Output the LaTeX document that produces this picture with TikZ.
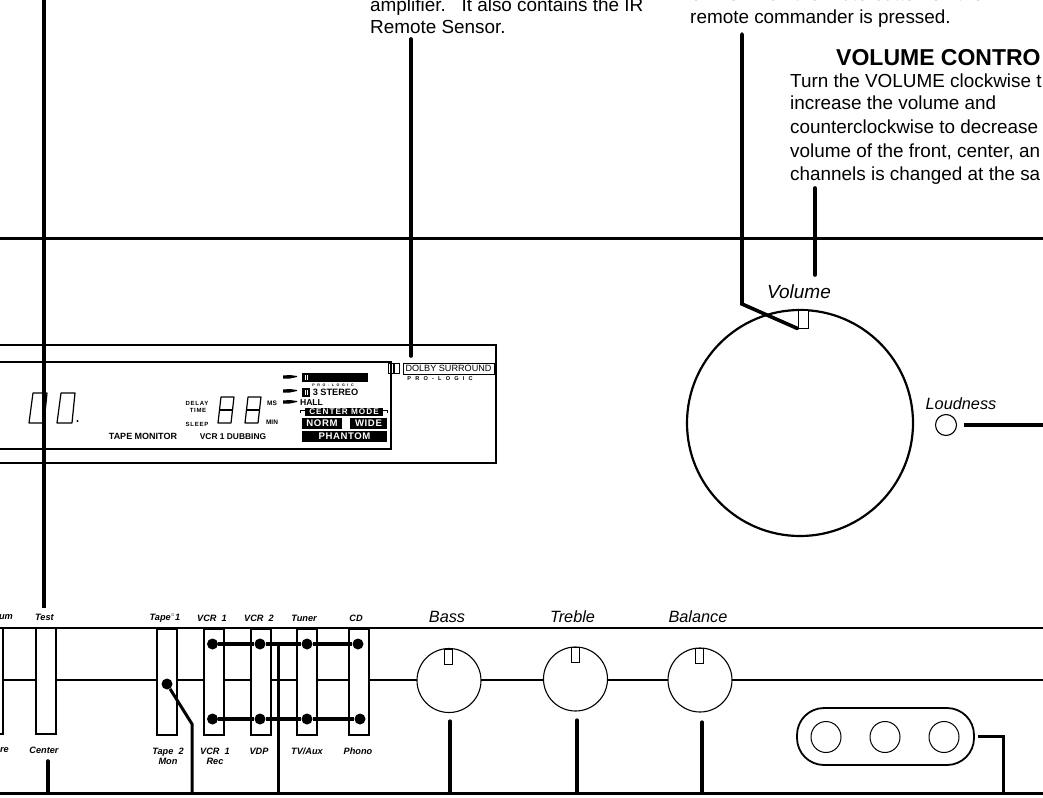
\documentclass[tikz,border=0pt]{standalone}
\usepackage{fontspec}
\setmainfont{Liberation Sans}
\newcommand\gpa{\hspace{2.6pt}}
\newcommand\gpb{\hspace{4.2pt}}
\usetikzlibrary{shapes.geometric}
\tikzset{
 x=1pt,y=-1pt,
 rule/.style={line width=3pt,black},
 lead/.style={line width=3.6pt,black},
 body/.style={anchor=base west,inner sep=0pt,font=\fontsize{18.9}{22}\selectfont},
 ctl/.style={inner sep=0pt,font=\fontsize{16.3}{18}\selectfont\itshape},
 sw/.style={inner sep=0pt,font=\fontsize{9.2}{10}\selectfont\itshape\bfseries,align=center},
 tiny/.style={inner sep=0pt,font=\fontsize{7.5}{8}\selectfont\bfseries},
 key/.style={draw=black,line width=2pt,fill=white,minimum width=20pt,minimum height=106pt,inner sep=0pt},
 knob/.style={draw=black,line width=1.1pt,fill=white,ellipse,minimum width=64pt,minimum height=64pt,inner sep=0pt},
 mark1/.style={draw=black,line width=.8pt,fill=white,minimum width=8pt,minimum height=15pt,inner sep=0pt},
 hole/.style={ellipse,draw=black,line width=1pt,minimum width=30pt,minimum height=31pt,inner sep=0pt},
 dot/.style={circle,fill=black,inner sep=0pt,minimum size=11pt},
 rev/.style={fill=black,text=white,inner sep=0pt,font=\fontsize{9.6}{10}\selectfont\bfseries\addfontfeatures{LetterSpace=6}},
 seg/.style={line width=1.2pt,black,line join=round},
}
\begin{document}
\begin{tikzpicture}
\useasboundingbox (0,0) rectangle (1043,797);
% frame rules
\coordinate (tL) at (0,238); \coordinate (tR) at (1043,238);
\coordinate (pL) at (0,628); \coordinate (pR) at (1043,628);
\coordinate (mL) at (0,680); \coordinate (mR) at (1043,680);
\coordinate (bL) at (0,793); \coordinate (bR) at (1043,793);
\draw[rule] (tL)--(tR);
\draw[rule,line width=2.2pt] (pL)--(pR);
\draw[rule,line width=2.2pt] (mL)--(mR);
\draw[rule] (bL)--(bR);
% display
\draw[line width=2.2pt] (0,345)--(496,345)--(496,463)--(0,463);
\draw[line width=2pt] (0,362)--(391,362)--(391,449)--(0,449);
% digits
\foreach \xx in {29,57}{
 \draw[seg] (\xx+4,393)--(\xx+18,393)--(\xx+15,423)--(\xx,423)--cycle;}
\fill (77.5,421) circle (1.2pt);
\foreach \xx in {218,245}{
 \draw[seg] (\xx+3,397)--(\xx+16,397)--(\xx+13,423)--(\xx,423)--cycle;
 \draw[seg] (\xx+1.5,410)--(\xx+14.5,410);}
\node[tiny,font=\fontsize{6}{7}\selectfont\bfseries\addfontfeatures{LetterSpace=12}] (dl) at (197,403) {DELAY};
\node[tiny,font=\fontsize{6}{7}\selectfont\bfseries\addfontfeatures{LetterSpace=12}] (tm) at (198,410) {TIME};
\node[tiny,font=\fontsize{6}{7}\selectfont\bfseries\addfontfeatures{LetterSpace=12}] (sl) at (197,424.5) {SLEEP};
\node[tiny,font=\fontsize{6.5}{7}\selectfont\bfseries] (ms) at (272,403) {MS};
\node[tiny,font=\fontsize{6.5}{7}\selectfont\bfseries] (mn) at (272,422) {MIN};
\node[tiny,font=\fontsize{9}{10}\selectfont\bfseries] (tp) at (143,436) {TAPE MONITOR};
\node[tiny,font=\fontsize{8.4}{10}\selectfont\bfseries] (vd) at (233,436.5) {VCR 1 DUBBING};
% pointer wedges
\foreach \yy in {377,391,402}{
 \fill (283,\yy-1.5)--(290,\yy-2)--(297,\yy-1)--(297,\yy)--(290,\yy+1.5)--(283,\yy+1.5)--cycle;}
\fill (302,373) rectangle (368,382);
\draw[white,line width=.7pt] (305,375)--(305,380) (307.5,375)--(307.5,380);
\fill (302,388) rectangle (310,397);
\draw[white,line width=.7pt] (305,390)--(305,395) (307.5,390)--(307.5,395);
\node[tiny,font=\fontsize{3.6}{4}\selectfont\bfseries] (pl0) at (333,385.5) {P\gpa R\gpa O\gpa -\gpa L\gpa O\gpa G\gpa I\gpa C};
\node[tiny,font=\fontsize{9.2}{10}\selectfont\bfseries] (st) at (335.5,392.5) {3 STEREO};
\node[tiny,font=\fontsize{8.6}{10}\selectfont\bfseries] (hl) at (311.5,403) {HALL};
\node[rev,minimum width=78pt,minimum height=8pt,font=\fontsize{8.2}{9}\selectfont\bfseries\addfontfeatures{LetterSpace=12}] (cm) at (344,411.5) {CENTER MODE};
\draw[line width=.9pt] (305,410)--(300.5,410)--(300.5,412.5) (383,410)--(387.5,410)--(387.5,412.5);
\node[rev,minimum width=40pt,minimum height=11pt] (nr) at (322,423.5) {NORM};
\node[rev,minimum width=37pt,minimum height=11pt] (wd) at (368.5,423.5) {WIDE};
\node[rev,minimum width=85pt,minimum height=11pt] (ph) at (344.5,436.5) {PHANTOM};
% dolby
\draw[line width=1pt] (388.5,363.5) rectangle (399.5,373);
\draw[line width=1.6pt] (394,363.5)--(394,373);
\node[draw=black,line width=.8pt,inner sep=0pt,minimum width=91pt,minimum height=11pt,font=\fontsize{9.1}{10}\selectfont] (db) at (448.5,368.5) {DOLBY SURROUND};
\node[tiny,font=\fontsize{5.6}{6}\selectfont\bfseries] (pl1) at (440,379) {P\gpb R\gpb O\gpb -\gpb L\gpb O\gpb G\gpb I\gpb C};
% leaders
\coordinate (testTop) at (44,0); \coordinate (testEnd) at (44,608);
\draw[lead] (testTop)--(testEnd);
\coordinate (irTop) at (411,39); \coordinate (irEnd) at (411,356);
\draw[lead,line cap=round] (irTop)--(irEnd);
% text
\node[body] (t1) at (370,12) {amplifier.\ \ \ It also contains the IR};
\node[body] (t2) at (370,33.5) {Remote Sensor.};
\node[body] (t3) at (690,0.5) {blinks when the mute button on the};
\node[body] (t4) at (690,23.5) {remote commander is pressed.};
\node[inner sep=0pt,anchor=base west,font=\fontsize{23}{25}\selectfont\bfseries] (vc) at (836,65.5) {VOLUME CONTRO};
\node[body] (v1) at (790,87.5) {Turn the VOLUME clockwise t};
\node[body] (v2) at (790,110) {increase the volume and};
\node[body] (v3) at (790,133.5) {counterclockwise to decrease};
\node[body] (v4) at (790,157) {volume of the front, center, an};
\node[body] (v5) at (790,180) {channels is changed at the sa};
% volume knob
\node[ctl,font=\fontsize{19}{21}\selectfont\itshape] (vol) at (799,292) {Volume};
\node[circle,draw=black,line width=2.2pt,fill=white,minimum size=226pt,inner sep=0pt] (big) at (800,423) {};
\node[draw=black,line width=1pt,fill=white,minimum width=10pt,minimum height=18pt,inner sep=0pt] (volm) at (803,319) {};
\coordinate (muteTop) at (742,34);
\coordinate (muteBend) at (742,304);
\draw[lead,line cap=round,line join=miter] (muteTop)--(muteBend)--(volm.south west);
\coordinate (vcEnd) at (815,188); \coordinate (vcLow) at (815,275);
\draw[lead,line cap=round] (vcEnd)--(vcLow);
\node[ctl] (ld) at (961,404) {Loudness};
\node[circle,draw=black,line width=1.1pt,fill=white,minimum size=21pt,inner sep=0pt] (ldb) at (946,425) {};
\coordinate (ldR) at (1043,425);
\draw[lead] ([xshift=7pt]ldb.east)--(ldR);
% panel labels
\node[sw] (lum) at (6,617) {um};
\node[sw] (test) at (44.5,617) {Test};
\node[sw] (tape1) at (165,618) {Tape$^{\circ}$1};
\node[sw] (vcr1) at (212,618) {VCR\ \ 1};
\node[sw] (vcr2) at (259,618) {VCR\ \ 2};
\node[sw] (tun) at (304,618) {Tuner};
\node[sw] (cd) at (356,618) {CD};
\node[sw] (lre) at (4.5,750) {re};
\node[sw] (cen) at (44,750) {Center};
\node[sw] (tape2) at (168,756.5) {Tape\ \ 2\\Mon};
\node[sw] (vr) at (215,756.5) {VCR\ \ 1\\Rec};
\node[sw] (vdp) at (259,751) {VDP};
\node[sw] (tv) at (307,751) {TV/Aux};
\node[sw] (ph2) at (358,751) {Phono};
% keys
\draw[draw=black,line width=1.4pt,fill=white] (-3,628) rectangle (3,734);
\node[key,line width=1.4pt] (kC) at (46,681) {};
\node[key] (k1) at (166.5,682) {};
\node[key] (k2) at (213.5,682) {};
\node[key] (k3) at (260.5,682) {};
\node[key] (k4) at (307,682) {};
\node[key] (k5) at (358.5,682) {};
\node[dot] (d1) at (167,684) {};
\node[dot] (a2) at (212.5,644) {}; \node[dot] (a3) at (260,644) {}; \node[dot] (a4) at (307,644) {}; \node[dot] (a5) at (358,644) {};
\node[dot] (b2) at (212.5,719) {}; \node[dot] (b3) at (260,719) {}; \node[dot] (b4) at (307,719) {}; \node[dot] (b5) at (360,719) {};
\draw[line width=3.4pt] (a2)--(a3)--(a4)--(a5);
\draw[line width=3.4pt] (b2)--(b3)--(b4)--(b5);
\coordinate (tp1) at (192,724); \coordinate (tp2) at (192,793);
\draw[line width=3pt,line join=miter] (d1)--(tp1)--(tp2);
\coordinate (cc) at (278,646); \coordinate (cb) at (278,793);
\draw[line width=3pt] (cc)--(cb);
\coordinate (cn1) at (48,761); \coordinate (cn2) at (48,793);
\draw[lead,line cap=round] (cn1)--(cn2);
% tone knobs
\node[ctl] (bass) at (447,617) {Bass};
\node[ctl] (treb) at (572.5,617) {Treble};
\node[ctl] (bal) at (698,617) {Balance};
\node[knob] (kb) at (449,680.5) {};
\node[knob] (kt) at (575.5,679) {};
\node[knob] (kl) at (700,680) {};
\node[mark1] (mb) at (448,656.5) {};
\node[mark1] (mt) at (575,655) {};
\node[mark1] (ml) at (699.5,655.5) {};
\foreach \n/\xx/\yy in {kb/450/721,kt/577/720,kl/702/722}{
 \coordinate (s\n) at (\xx,\yy); \coordinate (e\n) at (\xx,793);
 \draw[line width=3.2pt,line cap=round] (s\n)--(e\n);}
% pill
\node[draw=black,line width=1.8pt,rounded corners=27pt,minimum width=177pt,minimum height=57pt,inner sep=0pt] (pill) at (885.5,736.5) {};
\node[hole] (o1) at (826,737) {};
\node[hole] (o2) at (885,737) {};
\node[hole] (o3) at (944,737) {};
\coordinate (pa) at (978,736); \coordinate (pb) at (1003,736); \coordinate (pc) at (1003,793);
\draw[line width=3pt,line join=miter] (pa)--(pb)--(pc);
\end{tikzpicture}
\end{document}
